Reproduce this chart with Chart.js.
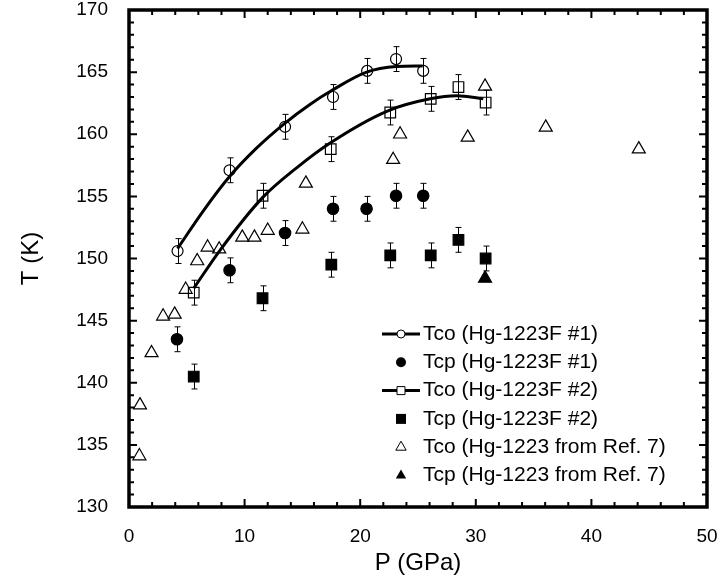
<!DOCTYPE html>
<html>
<head>
<meta charset="utf-8">
<script src="https://cdn.jsdelivr.net/npm/chart.js@4/dist/chart.umd.min.js"></script>
<style>
    html, body { margin: 0; padding: 0; background: #fff; }
</style>
</head>
<body>
<canvas id="myChart" width="717" height="588"></canvas>
<script>
// Tco / Tcp data (P in GPa, T in K)
const tco1P = [4.2, 8.7, 13.5, 17.65, 20.6, 23.1, 25.45];
const tco1T = [150.6, 157.1, 160.6, 163.0, 165.1, 166.05, 165.1];
const tco1Err = [1, 1, 1, 1, 1, 1, 1];

const tcp1P = [4.15, 8.7, 13.5, 17.65, 20.55, 23.1, 25.45];
const tcp1T = [143.5, 149.05, 152.05, 154.0, 154.0, 155.05, 155.05];
const tcp1Err = [1, 1, 1, 1, 1, 1, 1];

const tco2P = [5.6, 11.55, 17.45, 22.6, 26.1, 28.5, 30.85];
const tco2T = [147.25, 155.05, 158.8, 161.75, 162.85, 163.8, 162.55];
const tco2Err = [1, 1, 1, 1, 1, 1, 1];

const tcp2P = [5.6, 11.55, 17.5, 22.6, 26.1, 28.5, 30.85];
const tcp2T = [140.5, 146.8, 149.5, 150.25, 150.25, 151.5, 150.0];
const tcp2Err = [1, 1, 1, 1, 1, 1, 1];

const refTcoP = [0.9, 0.95, 1.95, 2.95, 3.95, 4.9, 5.9, 6.8, 7.8, 9.8, 10.85, 12.0, 15.0, 15.3, 22.85, 23.45, 29.3, 30.8, 36.05, 44.1];
const refTcoT = [134.1, 138.2, 142.4, 145.35, 145.5, 147.5, 149.8, 150.9, 150.75, 151.7, 151.7, 152.25, 152.35, 156.05, 157.95, 160.0, 159.75, 163.85, 160.55, 158.8];

const refTcpP = [30.8];
const refTcpT = [148.4];

// fitted curves
const fit1P = [4.2, 6.4, 8.7, 11.05, 13.5, 15.65, 17.5, 20.55, 23.15, 25.4];
const fit1T = [150.8, 153.8, 156.6, 158.9, 160.9, 162.4, 163.5, 165.0, 165.45, 165.5];
const fit2P = [5.6, 7.9, 11.55, 14.5, 17.4, 22.3, 26.05, 28.35, 30.65];
const fit2T = [147.6, 150.7, 154.9, 157.3, 159.3, 161.85, 162.85, 163.1, 162.85];

const legendLabels = [
    "Tco (Hg-1223F #1)",
    "Tcp (Hg-1223F #1)",
    "Tco (Hg-1223F #2)",
    "Tcp (Hg-1223F #2)",
    "Tco (Hg-1223 from Ref. 7)",
    "Tcp (Hg-1223 from Ref. 7)"
];

const xMin = 0, xMax = 50, xMajor = 10, xMinor = 2;
const yMin = 130, yMax = 170, yMajor = 5, yMinor = 1;

const FONT = "'Liberation Sans', Arial, sans-serif";

function toPoints(xs, ys) {
    const pts = [];
    for (let i = 0; i < xs.length; i++) {
        pts.push({x: xs[i], y: ys[i]});
    }
    return pts;
}

function markerSet(label, xs, ys, style, radius, filled, errs) {
    return {
        label: label,
        data: toPoints(xs, ys),
        errors: errs,
        pointStyle: style,
        pointRadius: radius,
        pointHoverRadius: radius,
        pointBorderWidth: 1.2,
        pointBorderColor: '#000',
        pointBackgroundColor: filled ? '#000' : 'rgba(0,0,0,0)',
        borderColor: '#000',
        showLine: false
    };
}

function lineSet(xs, ys) {
    return {
        label: 'fit',
        data: toPoints(xs, ys),
        showLine: true,
        pointRadius: 0,
        borderColor: '#000',
        borderWidth: 3,
        cubicInterpolationMode: 'monotone'
    };
}

// vertical error bars with small caps
const errorBars = {
    id: 'errorBars',
    beforeDatasetsDraw(chart) {
        const ctx = chart.ctx;
        const xs = chart.scales.x;
        const ys = chart.scales.y;
        ctx.save();
        ctx.strokeStyle = '#000';
        ctx.lineWidth = 1;
        chart.data.datasets.forEach((ds) => {
            if (!ds.errors) return;
            ds.data.forEach((p, i) => {
                const e = ds.errors[i];
                const px = Math.round(xs.getPixelForValue(p.x)) + 0.5;
                const top = ys.getPixelForValue(p.y + e);
                const bot = ys.getPixelForValue(p.y - e);
                ctx.beginPath();
                ctx.moveTo(px, top);
                ctx.lineTo(px, bot);
                ctx.moveTo(px - 3, top);
                ctx.lineTo(px + 3, top);
                ctx.moveTo(px - 3, bot);
                ctx.lineTo(px + 3, bot);
                ctx.stroke();
            });
        });
        ctx.restore();
    }
};

// thick frame with inward ticks on all four sides
const frameTicks = {
    id: 'frameTicks',
    afterDraw(chart) {
        const ctx = chart.ctx;
        const a = chart.chartArea;
        const xs = chart.scales.x;
        const ys = chart.scales.y;
        ctx.save();
        ctx.strokeStyle = '#000';
        ctx.lineWidth = 2;
        ctx.beginPath();
        const nx = Math.round((xMax - xMin) / xMinor);
        for (let i = 0; i <= nx; i++) {
            const v = xMin + i * xMinor;
            const len = (v % xMajor === 0) ? 8 : 5;
            const px = xs.getPixelForValue(v);
            ctx.moveTo(px, a.bottom);
            ctx.lineTo(px, a.bottom - len);
            ctx.moveTo(px, a.top);
            ctx.lineTo(px, a.top + len);
        }
        const ny = Math.round((yMax - yMin) / yMinor);
        for (let i = 0; i <= ny; i++) {
            const v = yMin + i * yMinor;
            const len = (v % yMajor === 0) ? 8 : 5;
            const py = ys.getPixelForValue(v);
            ctx.moveTo(a.left, py);
            ctx.lineTo(a.left + len, py);
            ctx.moveTo(a.right, py);
            ctx.lineTo(a.right - len, py);
        }
        ctx.stroke();
        ctx.lineWidth = 3.5;
        ctx.strokeRect(a.left, a.top, a.right - a.left, a.bottom - a.top);
        ctx.restore();
    }
};

// legend in the lower right, symbols drawn by hand
const customLegend = {
    id: 'customLegend',
    afterDraw(chart) {
        const ctx = chart.ctx;
        const styles = [
            {shape: 'circle', filled: false, line: true},
            {shape: 'circle', filled: true, line: false},
            {shape: 'rect', filled: false, line: true},
            {shape: 'rect', filled: true, line: false},
            {shape: 'triangle', filled: false, line: false},
            {shape: 'triangle', filled: true, line: false}
        ];
        const symX = 401;
        const textX = 423;
        let y = 334;
        ctx.save();
        ctx.font = "21px " + FONT;
        ctx.textBaseline = 'middle';
        ctx.fillStyle = '#000';
        ctx.strokeStyle = '#000';
        for (let i = 0; i < legendLabels.length; i++) {
            const s = styles[i];
            if (s.line) {
                ctx.lineWidth = 3;
                ctx.beginPath();
                ctx.moveTo(382, y);
                ctx.lineTo(420, y);
                ctx.stroke();
            }
            ctx.lineWidth = 1;
            ctx.beginPath();
            if (s.shape === 'circle') {
                ctx.arc(symX, y, s.filled ? 5 : 4, 0, Math.PI * 2);
            } else if (s.shape === 'rect') {
                const h = s.filled ? 5 : 4;
                ctx.rect(symX - h, y - h, 2 * h, 2 * h);
            } else {
                const r = 6;
                ctx.moveTo(symX, y - r);
                ctx.lineTo(symX + r * 0.866, y + r * 0.5);
                ctx.lineTo(symX - r * 0.866, y + r * 0.5);
                ctx.closePath();
            }
            if (s.filled) {
                ctx.fill();
            } else {
                ctx.fillStyle = '#fff';
                ctx.fill();
                ctx.fillStyle = '#000';
                ctx.stroke();
            }
            ctx.fillText(legendLabels[i], textX, y);
            y += 28.3;
        }
        ctx.restore();
    }
};

function loadChart(id) {
    const ctx = document.getElementById(id);
    new Chart(ctx, {
        type: 'scatter',
        data: {
            datasets: [
                lineSet(fit1P, fit1T),
                lineSet(fit2P, fit2T),
                markerSet(legendLabels[0], tco1P, tco1T, 'circle', 5.5, false, tco1Err),
                markerSet(legendLabels[1], tcp1P, tcp1T, 'circle', 5.7, true, tcp1Err),
                markerSet(legendLabels[2], tco2P, tco2T, 'rect', 7.5, false, tco2Err),
                markerSet(legendLabels[3], tcp2P, tcp2T, 'rect', 7.5, true, tcp2Err),
                markerSet(legendLabels[4], refTcoP, refTcoT, 'triangle', 7.5, false, null),
                markerSet(legendLabels[5], refTcpP, refTcpT, 'triangle', 7.5, true, null)
            ]
        },
        options: {
            responsive: false,
            animation: false,
            clip: false,
            layout: { padding: { top: 10, right: 10, left: 0, bottom: 0 } },
            plugins: {
                legend: { display: false },
                tooltip: { enabled: false }
            },
            scales: {
                x: {
                    type: 'linear',
                    min: xMin,
                    max: xMax,
                    grid: { display: false, drawTicks: false },
                    border: { display: false },
                    ticks: {
                        stepSize: xMajor,
                        padding: 18,
                        color: '#000',
                        font: { family: FONT, size: 19 },
                        maxRotation: 0
                    },
                    title: {
                        display: true,
                        text: 'P (GPa)',
                        color: '#000',
                        font: { family: FONT, size: 24 },
                        padding: { top: 0, bottom: 10 }
                    },
                    afterFit: (scale) => {
                        scale.height = 81;
                        scale.paddingLeft = 0;
                        scale.paddingRight = 0;
                    }
                },
                y: {
                    type: 'linear',
                    min: yMin,
                    max: yMax,
                    grid: { display: false, drawTicks: false },
                    border: { display: false },
                    ticks: {
                        stepSize: yMajor,
                        padding: 21,
                        color: '#000',
                        font: { family: FONT, size: 19 }
                    },
                    title: {
                        display: true,
                        text: 'T (K)',
                        color: '#000',
                        font: { family: FONT, size: 24 },
                        padding: { top: 17, bottom: 0 }
                    },
                    afterFit: (scale) => {
                        scale.width = 129;
                        scale.paddingTop = 0;
                        scale.paddingBottom = 0;
                    }
                }
            }
        },
        plugins: [errorBars, frameTicks, customLegend]
    });
}

window.onload = (event) => {
    loadChart('myChart');
};
</script>
</body>
</html>
